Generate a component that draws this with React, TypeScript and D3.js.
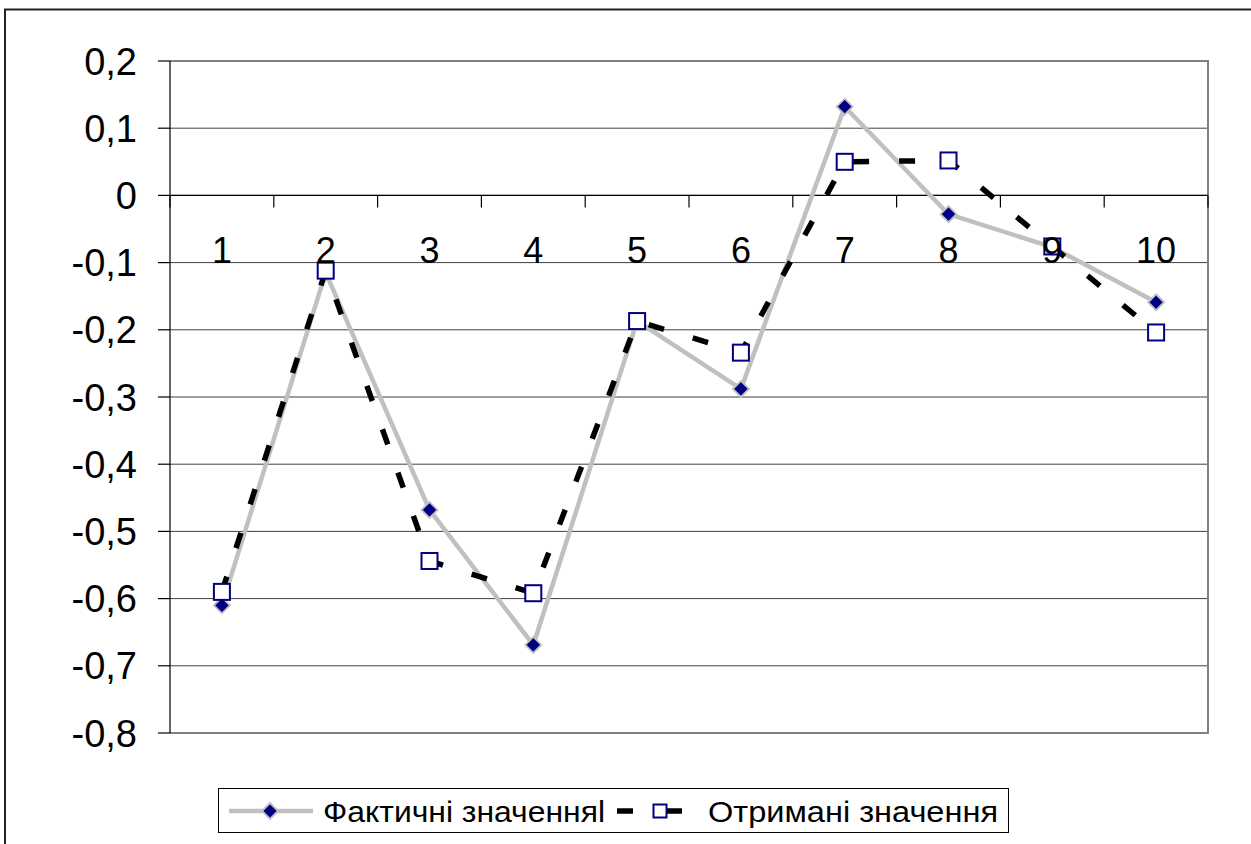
import React from "react";
import * as d3 from "d3";

// Observation index and the two series
const categories = ["1", "2", "3", "4", "5", "6", "7", "8", "9", "10"];
const actualValues = [-0.61, -0.115, -0.468, -0.669, -0.187, -0.288, 0.132, -0.028, -0.077, -0.159];
const obtainedValues = [-0.59, -0.112, -0.544, -0.592, -0.187, -0.234, 0.05, 0.052, -0.076, -0.204];
const yTicks = [0.2, 0.1, 0, -0.1, -0.2, -0.3, -0.4, -0.5, -0.6, -0.7, -0.8];
const seriesNames = ["Фактичні значенняl", "Отримані значення"];

const W = 1251;
const H = 844;
const plot = { left: 170, right: 1208, top: 61, bottom: 733 };
const FONT = "'Liberation Sans', Arial, sans-serif";

const fmt = (v: number) => (Math.abs(v) < 1e-9 ? "0" : d3.format(".1f")(v).replace(".", ",").replace("−", "-"));

function Diamond({ cx, cy, r = 8 }: { cx: number; cy: number; r?: number }) {
  const p = `M${cx},${cy - r}L${cx + r},${cy}L${cx},${cy + r}L${cx - r},${cy}Z`;
  return <path d={p} fill="#000080" stroke="#c0c0c0" strokeWidth={1.8} />;
}

function Square({ cx, cy, s = 16 }: { cx: number; cy: number; s?: number }) {
  return <rect x={cx - s / 2} y={cy - s / 2} width={s} height={s} fill="#ffffff" stroke="#000080" strokeWidth={2} />;
}

export default function App() {
  const x = d3.scaleBand<string>().domain(categories).range([plot.left, plot.right]).padding(0);
  const y = d3.scaleLinear().domain([-0.8, 0.2]).range([plot.bottom, plot.top]);
  const cx = (c: string) => (x(c) ?? 0) + x.bandwidth() / 2;

  const line = d3
    .line<number>()
    .x((_, i) => cx(categories[i]))
    .y((d) => y(d));

  const boundaries = d3.range(categories.length + 1).map((i) => plot.left + i * x.bandwidth());

  return (
    <div style={{ position: "absolute", left: 0, top: 0 }}>
      <svg width={W} height={H} style={{ display: "block", background: "#ffffff" }}>
        {/* outer chart frame */}
        <rect x={5} y={9.5} width={W + 20} height={H + 20} fill="#ffffff" stroke="#222222" strokeWidth={2} />

        {/* horizontal gridlines */}
        {yTicks.map((t) => (
          <line key={"g" + t} x1={plot.left} x2={plot.right} y1={y(t)} y2={y(t)} stroke="#000000" strokeWidth={1} opacity={0.75} />
        ))}

        {/* plot area border */}
        <path
          d={`M${plot.left},${plot.top}H${plot.right}V${plot.bottom}H${plot.left}`}
          fill="none"
          stroke="#808080"
          strokeWidth={2}
        />

        {/* value axis */}
        <line x1={plot.left} x2={plot.left} y1={plot.top} y2={plot.bottom} stroke="#000000" strokeWidth={1.2} />
        {yTicks.map((t) => (
          <g key={"y" + t}>
            <line x1={plot.left - 12} x2={plot.left} y1={y(t)} y2={y(t)} stroke="#000000" strokeWidth={1.2} />
            <text x={137} y={y(t) + 13.5} textAnchor="end" fontFamily={FONT} fontSize={38} fill="#000000">
              {fmt(t)}
            </text>
          </g>
        ))}

        {/* category axis at zero */}
        <line x1={plot.left} x2={plot.right} y1={y(0)} y2={y(0)} stroke="#000000" strokeWidth={1.4} />
        {boundaries.map((b, i) => (
          <line key={"xt" + i} x1={b} x2={b} y1={y(0)} y2={y(0) + 12} stroke="#000000" strokeWidth={1.2} />
        ))}

        {/* actual values */}
        <path d={line(actualValues) ?? ""} fill="none" stroke="#c0c0c0" strokeWidth={4.5} strokeLinejoin="round" />
        {actualValues.map((v, i) => (
          <Diamond key={"d" + i} cx={cx(categories[i])} cy={y(v)} />
        ))}

        {/* obtained values */}
        <path
          d={line(obtainedValues) ?? ""}
          fill="none"
          stroke="#000000"
          strokeWidth={5.5}
          strokeDasharray="16 30"
        />
        {obtainedValues.map((v, i) => (
          <Square key={"s" + i} cx={cx(categories[i])} cy={y(v)} />
        ))}

        {/* category labels */}
        {categories.map((c) => (
          <text key={"c" + c} x={cx(c)} y={263} textAnchor="middle" fontFamily={FONT} fontSize={36} fill="#000000">
            {c}
          </text>
        ))}

        {/* legend */}
        <rect x={218.5} y={788.5} width={790} height={44} fill="#ffffff" stroke="#000000" strokeWidth={1} />
        <line x1={229} x2={313} y1={811} y2={811} stroke="#c0c0c0" strokeWidth={4.5} />
        <Diamond cx={270} cy={811} />
        <text
          x={323}
          y={821.5}
          fontFamily={FONT}
          fontSize={29.5}
          fill="#000000"
          textLength={282}
          lengthAdjust="spacingAndGlyphs"
        >
          {seriesNames[0]}
        </text>
        <line x1={617} x2={633} y1={811} y2={811} stroke="#000000" strokeWidth={5.5} />
        <line x1={660} x2={682} y1={811} y2={811} stroke="#000000" strokeWidth={5.5} />
        <Square cx={660} cy={811} s={13} />
        <text
          x={708}
          y={821.5}
          fontFamily={FONT}
          fontSize={29.5}
          fill="#000000"
          textLength={290}
          lengthAdjust="spacingAndGlyphs"
        >
          {seriesNames[1]}
        </text>
      </svg>
    </div>
  );
}
